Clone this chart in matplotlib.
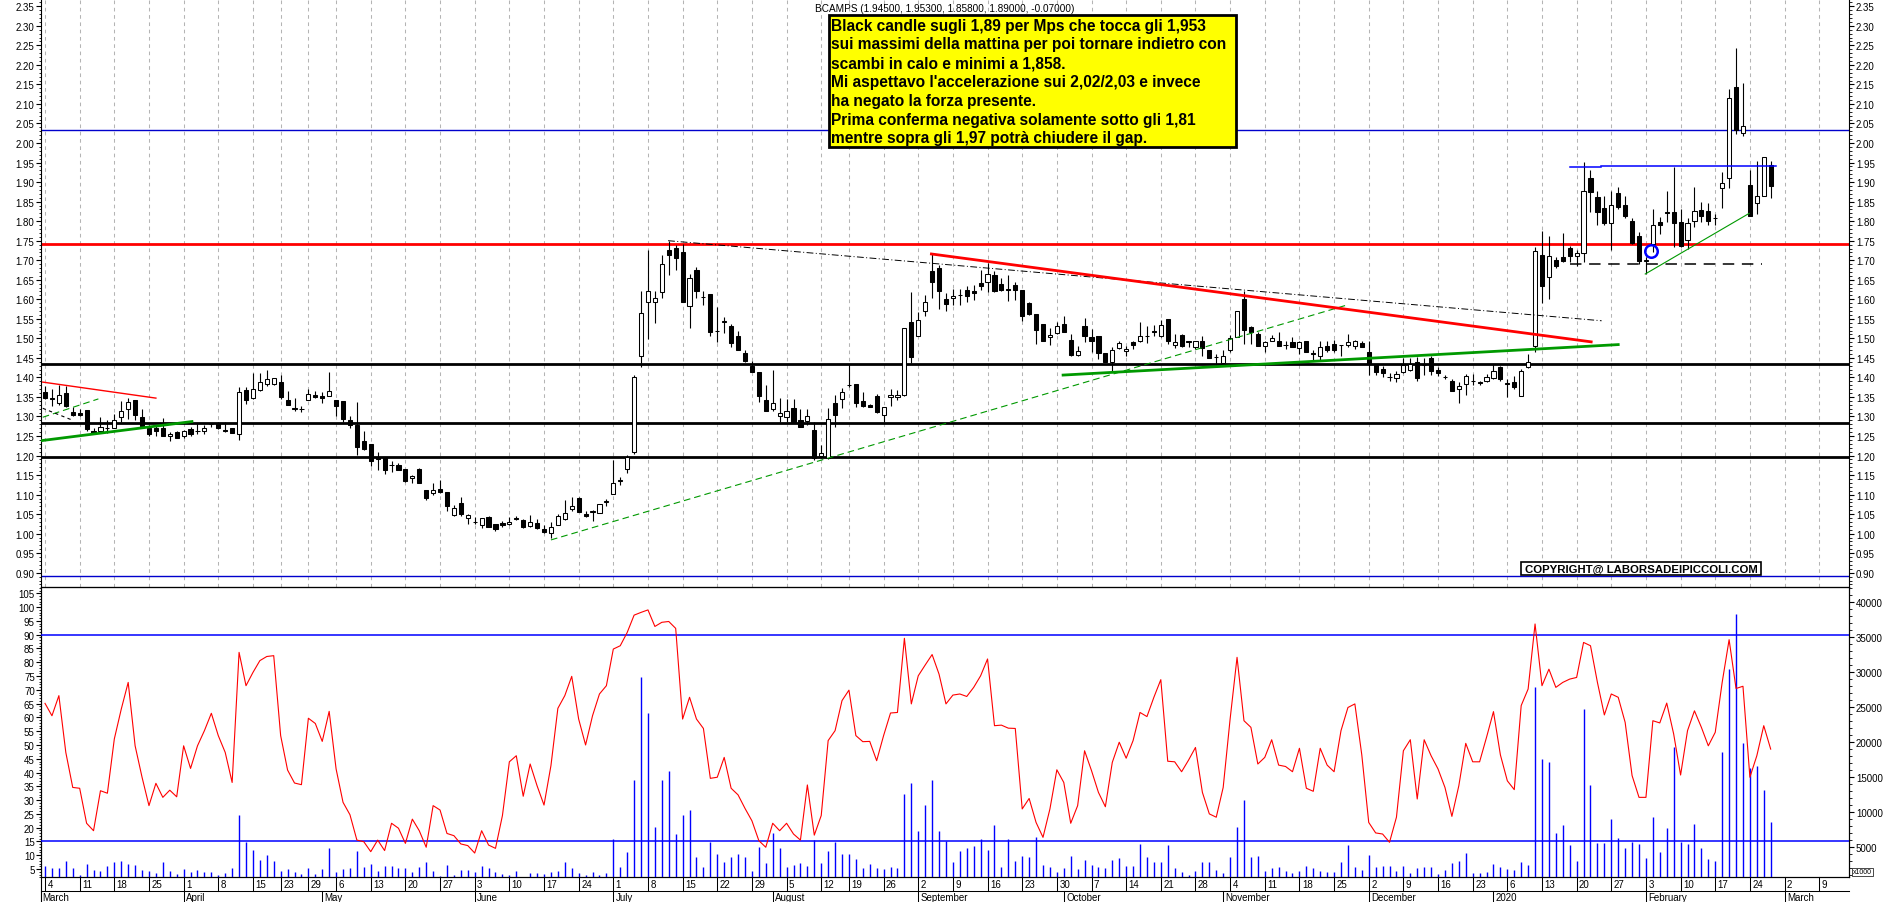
import numpy as np
import pandas as pd
import matplotlib
matplotlib.use('Agg')
import matplotlib.pyplot as plt
import matplotlib.transforms as mtransforms
from matplotlib.patches import Rectangle
from matplotlib.ticker import MultipleLocator, FormatStrFormatter

plt.rcParams['font.family'] = ['Liberation Sans', 'DejaVu Sans']

# Borsa Italiana calendar
holidays = ['2019-04-19', '2019-04-22', '2019-05-01', '2019-08-15', '2019-12-24',
            '2019-12-25', '2019-12-26', '2019-12-31', '2020-01-01']
days = pd.bdate_range('2019-03-04', '2020-03-13', freq='C', holidays=holidays)

opens = [
    1.362, 1.348, 1.335, 1.359, 1.311, 1.308, 1.317, 1.262, 1.262, 1.270,
    1.271, 1.298, 1.319, 1.342, 1.298, 1.270, 1.271, 1.270, 1.249, 1.260,
    1.251, 1.269, 1.262, 1.264, 1.281, 1.283, 1.265, 1.270, 1.254, 1.368,
    1.347, 1.369, 1.382, 1.384, 1.388, 1.342, 1.321, 1.319, 1.343, 1.355,
    1.352, 1.353, 1.342, 1.339, 1.292, 1.277, 1.237, 1.230, 1.197, 1.195,
    1.176, 1.176, 1.166, 1.142, 1.166, 1.112, 1.104, 1.114, 1.106, 1.049,
    1.078, 1.041, 1.030, 1.023, 1.042, 1.024, 1.027, 1.026, 1.039, 1.034,
    1.019, 1.028, 1.012, 1.001, 1.023, 1.038, 1.062, 1.091, 1.051, 1.055,
    1.052, 1.082, 1.102, 1.136, 1.166, 1.209, 1.456, 1.594, 1.594, 1.618,
    1.726, 1.731, 1.722, 1.584, 1.675, 1.607, 1.614, 1.520, 1.543, 1.531,
    1.505, 1.463, 1.429, 1.415, 1.342, 1.319, 1.301, 1.298, 1.321, 1.292,
    1.288, 1.266, 1.198, 1.193, 1.334, 1.345, 1.381, 1.383, 1.339, 1.330,
    1.352, 1.305, 1.349, 1.349, 1.355, 1.541, 1.507, 1.569, 1.672, 1.680,
    1.601, 1.603, 1.610, 1.624, 1.620, 1.641, 1.644, 1.663, 1.639, 1.626,
    1.637, 1.624, 1.590, 1.562, 1.537, 1.503, 1.513, 1.538, 1.496, 1.458,
    1.531, 1.504, 1.505, 1.463, 1.440, 1.475, 1.467, 1.490, 1.492, 1.505,
    1.518, 1.505, 1.550, 1.483, 1.509, 1.492, 1.479, 1.492, 1.470, 1.451,
    1.437, 1.469, 1.503, 1.601, 1.528, 1.511, 1.481, 1.494, 1.492, 1.483,
    1.490, 1.475, 1.492, 1.462, 1.454, 1.481, 1.486, 1.483, 1.483, 1.481,
    1.488, 1.464, 1.434, 1.422, 1.400, 1.399, 1.413, 1.419, 1.439, 1.433,
    1.449, 1.420, 1.400, 1.392, 1.370, 1.383, 1.390, 1.389, 1.390, 1.398,
    1.426, 1.385, 1.389, 1.353, 1.426, 1.481, 1.714, 1.656, 1.701, 1.708,
    1.731, 1.712, 1.719, 1.910, 1.861, 1.833, 1.795, 1.871, 1.842, 1.800,
    1.761, 1.699, 1.742, 1.797, 1.823, 1.823, 1.797, 1.752, 1.801, 1.829,
    1.825, 1.807, 1.884, 1.910, 2.144, 2.025, 1.893, 1.846, 1.865, 1.945]

highs = [
    1.377, 1.370, 1.381, 1.379, 1.324, 1.319, 1.317, 1.270, 1.298, 1.291,
    1.307, 1.339, 1.347, 1.342, 1.318, 1.277, 1.277, 1.295, 1.260, 1.264,
    1.266, 1.272, 1.283, 1.277, 1.283, 1.287, 1.287, 1.270, 1.375, 1.376,
    1.411, 1.411, 1.419, 1.398, 1.405, 1.366, 1.347, 1.326, 1.370, 1.366,
    1.362, 1.413, 1.342, 1.339, 1.302, 1.336, 1.262, 1.230, 1.208, 1.195,
    1.187, 1.180, 1.166, 1.150, 1.168, 1.112, 1.130, 1.138, 1.106, 1.074,
    1.093, 1.051, 1.042, 1.040, 1.045, 1.024, 1.032, 1.042, 1.046, 1.038,
    1.048, 1.038, 1.021, 1.029, 1.051, 1.087, 1.093, 1.093, 1.058, 1.061,
    1.075, 1.089, 1.189, 1.146, 1.202, 1.405, 1.622, 1.725, 1.620, 1.713,
    1.750, 1.739, 1.742, 1.665, 1.682, 1.622, 1.614, 1.580, 1.554, 1.537,
    1.520, 1.471, 1.443, 1.415, 1.381, 1.418, 1.347, 1.345, 1.345, 1.319,
    1.319, 1.285, 1.227, 1.321, 1.355, 1.372, 1.435, 1.383, 1.362, 1.332,
    1.358, 1.324, 1.371, 1.367, 1.526, 1.618, 1.567, 1.611, 1.716, 1.689,
    1.615, 1.626, 1.626, 1.635, 1.637, 1.676, 1.692, 1.672, 1.654, 1.661,
    1.643, 1.624, 1.592, 1.562, 1.537, 1.526, 1.541, 1.556, 1.511, 1.481,
    1.552, 1.524, 1.505, 1.463, 1.477, 1.492, 1.481, 1.494, 1.543, 1.532,
    1.535, 1.548, 1.550, 1.511, 1.511, 1.492, 1.492, 1.507, 1.470, 1.460,
    1.469, 1.509, 1.571, 1.622, 1.532, 1.515, 1.494, 1.509, 1.515, 1.492,
    1.503, 1.494, 1.492, 1.469, 1.494, 1.492, 1.497, 1.484, 1.511, 1.497,
    1.492, 1.492, 1.434, 1.430, 1.411, 1.417, 1.449, 1.449, 1.451, 1.449,
    1.456, 1.426, 1.405, 1.396, 1.388, 1.409, 1.409, 1.392, 1.409, 1.434,
    1.428, 1.396, 1.403, 1.421, 1.460, 1.735, 1.776, 1.763, 1.708, 1.770,
    1.737, 1.725, 1.951, 1.932, 1.878, 1.865, 1.878, 1.887, 1.865, 1.808,
    1.772, 1.708, 1.830, 1.810, 1.876, 1.938, 1.830, 1.808, 1.887, 1.848,
    1.847, 1.818, 1.925, 2.138, 2.243, 2.154, 1.932, 1.955, 1.964, 1.953]

lows = [
    1.345, 1.326, 1.330, 1.324, 1.302, 1.302, 1.264, 1.255, 1.260, 1.258,
    1.270, 1.285, 1.294, 1.290, 1.272, 1.251, 1.249, 1.249, 1.236, 1.244,
    1.244, 1.251, 1.255, 1.255, 1.273, 1.268, 1.261, 1.257, 1.240, 1.332,
    1.345, 1.366, 1.379, 1.381, 1.345, 1.330, 1.315, 1.311, 1.341, 1.347,
    1.335, 1.353, 1.302, 1.287, 1.270, 1.202, 1.215, 1.174, 1.162, 1.153,
    1.159, 1.162, 1.132, 1.130, 1.129, 1.087, 1.098, 1.104, 1.059, 1.045,
    1.046, 1.025, 1.025, 1.014, 1.017, 1.008, 1.017, 1.021, 1.034, 1.014,
    1.017, 1.012, 1.002, 0.988, 1.022, 1.036, 1.059, 1.055, 1.042, 1.032,
    1.052, 1.072, 1.102, 1.125, 1.156, 1.204, 1.426, 1.499, 1.540, 1.603,
    1.662, 1.676, 1.594, 1.527, 1.603, 1.586, 1.507, 1.490, 1.514, 1.477,
    1.471, 1.439, 1.413, 1.338, 1.313, 1.313, 1.287, 1.287, 1.285, 1.273,
    1.277, 1.189, 1.193, 1.191, 1.273, 1.321, 1.375, 1.324, 1.324, 1.323,
    1.309, 1.285, 1.328, 1.341, 1.353, 1.437, 1.505, 1.558, 1.603, 1.575,
    1.571, 1.586, 1.586, 1.594, 1.597, 1.624, 1.618, 1.618, 1.622, 1.596,
    1.597, 1.545, 1.560, 1.486, 1.492, 1.483, 1.511, 1.517, 1.456, 1.456,
    1.490, 1.464, 1.447, 1.439, 1.417, 1.473, 1.456, 1.473, 1.490, 1.488,
    1.507, 1.503, 1.486, 1.475, 1.479, 1.477, 1.473, 1.456, 1.449, 1.430,
    1.430, 1.466, 1.503, 1.486, 1.486, 1.481, 1.466, 1.492, 1.480, 1.473,
    1.477, 1.460, 1.464, 1.443, 1.443, 1.466, 1.466, 1.454, 1.477, 1.473,
    1.477, 1.406, 1.405, 1.400, 1.390, 1.388, 1.411, 1.417, 1.392, 1.406,
    1.405, 1.403, 1.396, 1.364, 1.334, 1.355, 1.381, 1.381, 1.387, 1.396,
    1.392, 1.349, 1.370, 1.353, 1.424, 1.464, 1.590, 1.600, 1.679, 1.695,
    1.695, 1.686, 1.695, 1.823, 1.789, 1.789, 1.725, 1.830, 1.808, 1.742,
    1.691, 1.665, 1.720, 1.767, 1.799, 1.733, 1.733, 1.729, 1.784, 1.797,
    1.789, 1.789, 1.834, 1.885, 2.023, 2.017, 1.814, 1.818, 1.865, 1.858]

closes = [
    1.348, 1.344, 1.356, 1.328, 1.304, 1.305, 1.268, 1.257, 1.273, 1.271,
    1.292, 1.313, 1.336, 1.304, 1.275, 1.255, 1.262, 1.249, 1.254, 1.246,
    1.264, 1.255, 1.262, 1.270, 1.280, 1.270, 1.264, 1.257, 1.362, 1.343,
    1.371, 1.387, 1.395, 1.398, 1.349, 1.330, 1.320, 1.318, 1.358, 1.350,
    1.347, 1.365, 1.328, 1.294, 1.278, 1.223, 1.217, 1.187, 1.192, 1.162,
    1.175, 1.164, 1.136, 1.147, 1.129, 1.092, 1.111, 1.106, 1.072, 1.066,
    1.051, 1.047, 1.031, 1.040, 1.018, 1.011, 1.021, 1.030, 1.037, 1.017,
    1.029, 1.015, 1.004, 1.017, 1.045, 1.053, 1.070, 1.055, 1.045, 1.059,
    1.075, 1.083, 1.129, 1.137, 1.196, 1.402, 1.564, 1.622, 1.603, 1.690,
    1.713, 1.706, 1.594, 1.655, 1.622, 1.606, 1.517, 1.519, 1.543, 1.487,
    1.471, 1.441, 1.415, 1.352, 1.315, 1.334, 1.309, 1.313, 1.287, 1.273,
    1.300, 1.194, 1.207, 1.294, 1.305, 1.362, 1.381, 1.334, 1.328, 1.325,
    1.311, 1.324, 1.355, 1.355, 1.526, 1.453, 1.547, 1.592, 1.645, 1.622,
    1.588, 1.608, 1.611, 1.609, 1.617, 1.635, 1.665, 1.622, 1.625, 1.624,
    1.624, 1.556, 1.562, 1.522, 1.494, 1.509, 1.531, 1.517, 1.457, 1.467,
    1.507, 1.492, 1.462, 1.440, 1.469, 1.487, 1.473, 1.483, 1.507, 1.505,
    1.515, 1.535, 1.492, 1.490, 1.481, 1.491, 1.492, 1.475, 1.449, 1.452,
    1.454, 1.500, 1.569, 1.521, 1.517, 1.481, 1.490, 1.501, 1.480, 1.483,
    1.479, 1.490, 1.464, 1.461, 1.477, 1.469, 1.469, 1.483, 1.490, 1.492,
    1.479, 1.434, 1.415, 1.411, 1.400, 1.408, 1.432, 1.434, 1.399, 1.432,
    1.417, 1.411, 1.400, 1.366, 1.379, 1.403, 1.390, 1.385, 1.400, 1.416,
    1.396, 1.383, 1.375, 1.417, 1.440, 1.723, 1.635, 1.712, 1.684, 1.699,
    1.710, 1.719, 1.878, 1.874, 1.824, 1.795, 1.842, 1.837, 1.814, 1.743,
    1.699, 1.700, 1.791, 1.789, 1.822, 1.795, 1.737, 1.795, 1.827, 1.812,
    1.800, 1.807, 1.898, 2.114, 2.033, 2.043, 1.814, 1.865, 1.964, 1.890]

volume = [
    2280, 1946, 1946, 2900, 1946, 944, 2519, 1660, 1468, 2280,
    2758, 2900, 2519, 2376, 1660, 1468, 1230, 2758, 1516, 1086,
    1803, 1421, 1660, 1325, 1325, 944, 1230, 1946, 9537, 5622,
    4572, 3092, 3808, 2996, 1516, 1803, 1325, 1086, 1898, 1086,
    1803, 4810, 1325, 1803, 1946, 4333, 2137, 2519, 1516, 2185,
    2280, 1946, 1946, 1325, 2089, 2758, 1468, 848, 2376, 992,
    1660, 1660, 1325, 2185, 1946, 1325, 1086, 944, 1468, 700,
    1230, 1230, 1086, 1325, 1468, 2758, 1946, 1230, 944, 1325,
    944, 1230, 6100, 2042, 4190, 14550, 29254, 24146, 7771, 14558,
    15792, 6816, 9538, 10253, 3570, 2138, 5622, 3952, 2758, 3570,
    3952, 3570, 1565, 5000, 2663, 6959, 4810, 2138, 2376, 2663,
    2280, 5956, 2663, 4333, 5622, 3952, 3952, 3235, 1946, 2519,
    1946, 1803, 2138, 1946, 12545, 14120, 7293, 10970, 14550, 7198,
    5861, 2854, 4333, 4810, 5145, 6100, 4524, 8105, 2138, 6100,
    2996, 3712, 3570, 6338, 2424, 2138, 1421, 1946, 3712, 1803,
    3092, 2424, 2138, 1946, 3092, 3379, 2280, 2280, 5383, 3570,
    2758, 2758, 5240, 1946, 1421, 944, 1565, 2758, 2854, 1660,
    1230, 3570, 7771, 11686, 3570, 3712, 1565, 1946, 2138, 1468,
    1230, 1468, 2280, 1946, 1468, 1325, 1421, 2854, 5288, 2042,
    1660, 3856, 2042, 2185, 2280, 1565, 2185, 1230, 1946, 2138,
    2138, 1086, 1708, 2663, 2996, 4094, 1230, 1230, 1421, 2519,
    2138, 1803, 1708, 2854, 2424, 27917, 17557, 17080, 6959, 8105,
    5288, 2996, 24718, 13834, 5479, 5479, 8964, 6243, 4810, 5622,
    5383, 3330, 9299, 4286, 7675, 19324, 5718, 5383, 8248, 4810,
    3235, 2996, 18608, 30447, 38324, 19802, 16269, 16507, 13118, 8582]

oscillator = [
    65.1, 60.6, 67.9, 47.3, 34.6, 34.3, 21.6, 18.9, 33.4, 32.5,
    52.2, 63.0, 72.7, 49.7, 38.3, 28.0, 36.1, 31.0, 33.6, 31.2,
    49.7, 41.5, 49.7, 55.2, 61.5, 53.4, 47.3, 36.4, 83.6, 71.5,
    76.3, 80.6, 82.1, 82.4, 53.4, 40.9, 36.2, 35.6, 59.7, 57.8,
    51.3, 62.2, 41.3, 29.2, 24.7, 15.5, 14.9, 11.3, 15.5, 11.7,
    21.6, 19.8, 14.3, 23.1, 18.9, 12.9, 28.0, 26.4, 17.9, 17.1,
    14.1, 13.5, 10.8, 18.9, 13.7, 12.5, 24.4, 43.9, 46.1, 31.4,
    43.1, 35.2, 28.2, 42.5, 63.3, 67.9, 74.9, 59.4, 50.0, 60.6,
    68.5, 71.5, 84.8, 86.0, 90.8, 97.1, 98.1, 99.0, 93.0, 94.5,
    94.8, 92.3, 59.4, 67.3, 59.4, 56.0, 37.9, 38.3, 45.5, 34.3,
    31.9, 27.0, 22.5, 15.3, 12.9, 21.6, 18.9, 21.6, 17.7, 15.5,
    35.5, 17.3, 24.4, 51.6, 55.2, 66.1, 69.9, 53.4, 51.2, 51.3,
    44.3, 53.4, 61.6, 61.8, 88.7, 64.9, 75.1, 79.0, 82.8, 75.7,
    64.9, 68.1, 68.5, 67.6, 70.9, 75.1, 81.2, 57.0, 57.2, 56.1,
    56.0, 26.8, 30.6, 21.9, 16.5, 26.8, 41.0, 36.4, 21.6, 28.0,
    47.9, 40.7, 32.8, 27.6, 43.7, 51.0, 45.2, 51.6, 61.8, 60.3,
    67.3, 73.7, 44.1, 43.9, 40.3, 44.5, 49.1, 32.8, 25.0, 23.8,
    34.6, 59.4, 81.8, 58.8, 56.4, 43.1, 45.5, 51.9, 42.7, 42.2,
    40.3, 48.8, 34.3, 33.2, 48.8, 42.7, 40.3, 55.2, 63.6, 64.9,
    46.4, 21.9, 18.1, 17.7, 14.7, 23.8, 47.9, 51.9, 30.4, 51.9,
    46.1, 41.3, 34.6, 24.1, 35.2, 50.6, 43.9, 43.9, 52.8, 62.1,
    46.4, 37.0, 33.8, 64.3, 70.3, 93.9, 71.5, 77.5, 70.9, 72.7,
    73.9, 74.5, 87.2, 86.0, 72.7, 60.9, 68.5, 67.3, 58.2, 38.9,
    31.0, 31.0, 58.8, 58.0, 65.2, 54.0, 39.1, 55.2, 62.4, 56.4,
    49.7, 54.6, 72.7, 88.2, 70.5, 71.3, 38.3, 46.1, 57.0, 48.5]

# drawn levels and trend lines (bar index, price)
blue_levels = [2.0325, 0.891]
red_level = 1.7415
black_levels = [1.434, 1.284, 1.197]
red_thin_x, red_thin_y = [-0.33, 16.0], [1.388, 1.347]
green_left_x, green_left_y = [-0.6, 21.2], [1.238, 1.287]
green_dash_left_x, green_dash_left_y = [-0.33, 7.7], [1.298, 1.345]
black_dot_left_x, black_dot_left_y = [-0.33, 4.1], [1.321, 1.2895]
green_dash_x, green_dash_y = [73.0, 187.8], [0.984, 1.585]
dashdot_x, dashdot_y = [89.9, 224.6], [1.750, 1.545]
red_trend_x, red_trend_y = [127.9, 223.1], [1.716, 1.491]
green_trend_x, green_trend_y = [146.9, 227.0], [1.406, 1.484]
blue_seg1_x, blue_seg1_y = [220.0, 224.5], [1.938, 1.938]
blue_seg2_x, blue_seg2_y = [224.5, 249.8], [1.940, 1.940]
black_dash_x, black_dash_y = [220.0, 247.7], [1.6895, 1.6895]
green_thin_x, green_thin_y = [230.9, 245.9], [1.6647, 1.820]
circle_x, circle_y = 231.8, 1.7227
osc_levels = [90, 15]

note_lines = [
    "Black candle sugli 1,89 per Mps che tocca gli 1,953",
    "sui massimi della mattina per poi tornare indietro con",
    "scambi in calo e minimi a 1,858.",
    "Mi aspettavo l'accelerazione sui 2,02/2,03 e invece",
    "ha negato la forza presente.",
    "Prima conferma negativa solamente sotto gli 1,81",
    "mentre sopra gli 1,97 potrà chiudere il gap.",
]

W, H = 1890, 903
fig = plt.figure(figsize=(W / 100, H / 100), dpi=100)
L, R = 41, 1849
ax = fig.add_axes([L / W, 1 - 588.3 / H, (R - L) / W, 588.3 / H])
ax_low = fig.add_axes([L / W, 1 - 878.3 / H, (R - L) / W, 290 / H])
ax_vol = ax_low.twinx()
ax_low.set_zorder(ax_vol.get_zorder() + 1)
ax_low.patch.set_visible(False)

xlim = (-0.58, 260.3)
x = np.arange(len(opens))

# week ticks (first trading day of each week) and month starts
iso = days.isocalendar()
wk = (iso['year'] * 100 + iso['week']).values
week_idx = [i for i in range(len(days)) if (i == 0 or wk[i] != wk[i - 1])
            and days[i] != pd.Timestamp('2019-12-30') and i <= xlim[1]]
mk = days.year * 100 + days.month
month_idx = [i for i in range(len(days)) if (i == 0 or mk[i] != mk[i - 1]) and i <= xlim[1]]

grid_kw = dict(color='#b4b4b4', linestyle=(0, (3.5, 3.5)), linewidth=0.75)

# ---- price panel
o, h, l, c = map(np.array, (opens, highs, lows, closes))
ax.vlines(x, l, h, color='black', lw=0.8, zorder=3)
for i in x:
    up = c[i] >= o[i]
    ax.add_patch(Rectangle((i - 0.3, min(o[i], c[i])), 0.6, max(abs(c[i] - o[i]), 0.0004),
                           facecolor='white' if up else 'black', edgecolor='black',
                           lw=0.75, zorder=4))

for lv in blue_levels:
    ax.axhline(lv, color='#0000cc', lw=1.0, zorder=2)
ax.axhline(red_level, color='#ff0000', lw=2.0, zorder=2)
for lv in black_levels:
    ax.axhline(lv, color='black', lw=2.0, zorder=2)

ax.plot(red_thin_x, red_thin_y, color='#ff0000', lw=1.0, zorder=5)
ax.plot(green_left_x, green_left_y, color='#009900', lw=2.0, zorder=5)
ax.plot(green_dash_left_x, green_dash_left_y, color='#009900', lw=0.8, ls=(0, (6, 3.6)), zorder=5)
ax.plot(black_dot_left_x, black_dot_left_y, color='black', lw=0.8, ls=(0, (3, 3)), zorder=5)
ax.plot(green_dash_x, green_dash_y, color='#009900', lw=0.8, ls=(0, (6, 3.6)), zorder=5)
ax.plot(dashdot_x, dashdot_y, color='black', lw=0.7, ls=(0, (7, 2.5, 1, 2.5)), zorder=5)
ax.plot(red_trend_x, red_trend_y, color='#ff0000', lw=2.0, zorder=5)
ax.plot(green_trend_x, green_trend_y, color='#009900', lw=2.0, zorder=5)
ax.plot(blue_seg1_x, blue_seg1_y, color='#0000ff', lw=1.1, zorder=5)
ax.plot(blue_seg2_x, blue_seg2_y, color='#0000ff', lw=1.1, zorder=5)
ax.plot(black_dash_x, black_dash_y, color='black', lw=1.1, ls=(0, (7.5, 5)), zorder=5)
ax.plot(green_thin_x, green_thin_y, color='#009900', lw=0.8, zorder=5)
ax.plot([circle_x], [circle_y], marker='o', ms=9, mfc='none', mec='#0000ff', mew=1.8, zorder=6)

ax.set_xlim(*xlim)
ax.set_ylim(0.8627, 2.3687)
ax.set_xticks(week_idx)
ax.tick_params(axis='x', length=0, labelbottom=False)
ax.grid(axis='x', **grid_kw)
ax.set_axisbelow(True)
ax.yaxis.set_major_locator(MultipleLocator(0.05))
ax.yaxis.set_minor_locator(MultipleLocator(0.01))
ax.yaxis.set_major_formatter(FormatStrFormatter('%.2f'))
ax.tick_params(axis='y', which='both', left=True, right=True, labelleft=True,
               labelright=True, labelsize=7, direction='out', pad=1.5)
ax.tick_params(axis='y', which='major', length=3.5)
ax.tick_params(axis='y', which='minor', length=1.8)
ax.spines['top'].set_visible(False)

ax.text(815.5 / W, 1 - 11.5 / H, "BCAMPS (1.94500, 1.95300, 1.85800, 1.89000, -0.07000)",
        transform=fig.transFigure, fontsize=7.2, va='baseline', ha='left')

# yellow comment box
fig.add_artist(Rectangle((829 / W, 1 - 147.7 / H), (1236 - 829) / W, 132 / H,
                         transform=fig.transFigure, facecolor='#ffff00',
                         edgecolor='black', lw=2.0, zorder=10))
for k, line in enumerate(note_lines):
    fig.text(831.5 / W, 1 - (30.7 + 18.8 * k) / H, line, fontsize=11.2,
             fontweight='bold', va='baseline', ha='left', zorder=11)

# copyright box
fig.add_artist(Rectangle((1520.6 / W, 1 - 575.7 / H), (1761.4 - 1520.6) / W, 12.4 / H,
                         transform=fig.transFigure, facecolor='white',
                         edgecolor='black', lw=1.2, zorder=10))
fig.text(1641 / W, 1 - 569.7 / H, "COPYRIGHT@ LABORSADEIPICCOLI.COM", fontsize=8.2,
         fontweight='bold', va='center', ha='center', zorder=11)

# ---- oscillator / volume panel
vol_bottom = 617
ax_vol.set_xticks(week_idx)
ax_vol.grid(axis='x', **grid_kw)
ax_vol.set_axisbelow(True)
ax_vol.vlines(x, vol_bottom, volume, color='#0000ff', lw=1.0, zorder=3)
ax_vol.set_ylim(vol_bottom, 42150)
ax_vol.set_yticks(np.arange(5000, 40001, 5000))
ax_vol.yaxis.set_minor_locator(MultipleLocator(1000))
ax_vol.tick_params(axis='y', which='both', labelsize=7, direction='out', pad=1.5)
ax_vol.tick_params(axis='y', which='major', length=3.5)
ax_vol.tick_params(axis='y', which='minor', length=1.8)

ax_low.plot(x, oscillator, color='#ff0000', lw=0.8, zorder=4)
for lv in osc_levels:
    ax_low.axhline(lv, color='#0000ff', lw=1.1, zorder=3)
ax_low.set_xlim(*xlim)
ax_low.set_ylim(2.0, 107.2)
ax_low.set_yticks(np.arange(5, 106, 5))
ax_low.yaxis.set_minor_locator(MultipleLocator(1))
ax_low.tick_params(axis='y', which='both', labelsize=7, direction='out', pad=1.0)
ax_low.tick_params(axis='y', which='major', length=3.5)
ax_low.tick_params(axis='y', which='minor', length=1.5)
ax_low.set_xticks(week_idx)
ax_low.tick_params(axis='x', length=0, labelbottom=False)

fig.text(1853 / W, 1 - 873 / H, "x1000", fontsize=5, va='center', ha='left',
         bbox=dict(boxstyle='square,pad=0.1', facecolor='white', edgecolor='black', lw=0.5))

# date axis: day numbers row and month row
tb = mtransforms.blended_transform_factory(ax_low.transData, ax_low.transAxes)
row1, row2 = -0.046, -0.086
for i in week_idx:
    ax_low.plot([i, i], [0, row1], color='black', lw=0.75, transform=tb, clip_on=False)
    ax_low.text(i + 0.35, -0.022, str(days[i].day), transform=tb, fontsize=7,
                va='center', ha='left', clip_on=False)
for i in month_idx:
    if i > 0:
        ax_low.plot([i, i], [row1, row2], color='black', lw=0.75, transform=tb, clip_on=False)
    name = '2020' if days[i].month == 1 else days[i].strftime('%B')
    ax_low.text(i + (0.35 if i > 0 else -0.4), -0.068, name, transform=tb, fontsize=7,
                va='center', ha='left', clip_on=False)
ax_low.plot([0, 1], [row1, row1], color='black', lw=0.75, transform=ax_low.transAxes, clip_on=False)
ax_low.plot([0, 0], [0, row2], color='black', lw=0.8, transform=ax_low.transAxes, clip_on=False)

fig.savefig('out.png', dpi=100)
plt.close()
